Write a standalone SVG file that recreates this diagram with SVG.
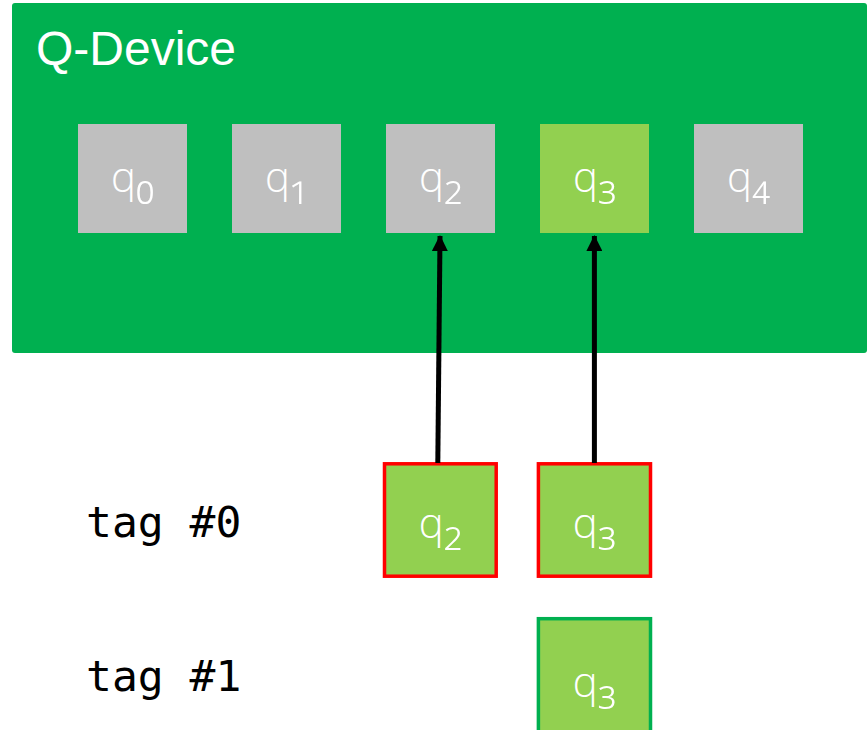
<svg xmlns="http://www.w3.org/2000/svg" width="868" height="730" viewBox="0 0 868 730">
<defs>
<style>
.qt{font-family:"Open Sans","Noto Sans","DejaVu Sans",sans-serif;font-weight:300;font-size:42px;fill:#fff;text-anchor:middle}
.sub{font-size:54px}
.gray{fill:#BFBFBF}
.lg{fill:#92D050}
.tag{font-family:"DejaVu Sans Mono","Liberation Mono",monospace;font-size:43px;fill:#000}
.conn{stroke:#000;stroke-width:5;fill:none}
</style>
<marker id="ah" viewBox="0 0 16 16" refX="15" refY="8" markerWidth="16" markerHeight="16" markerUnits="userSpaceOnUse" orient="auto">
<path d="M0,0 L16,8 L0,16 Z" fill="#000"/>
</marker>
</defs>
<g id="device">
<rect x="12" y="3" width="855" height="350" rx="3" fill="#00B050"/>
<text x="36" y="65" font-family="Liberation Sans,Arial,sans-serif" font-size="48" fill="#fff">Q-Device</text>
</g>
<g id="q0"><rect class="gray" x="78" y="124" width="109" height="109"/><text class="qt" x="132.5" y="192">q<tspan class="sub" dy="5">₀</tspan></text></g>
<g id="q1"><rect class="gray" x="232" y="124" width="109" height="109"/><text class="qt" x="286.5" y="192">q<tspan class="sub" dy="5">₁</tspan></text></g>
<g id="q2"><rect class="gray" x="386" y="124" width="109" height="109"/><text class="qt" x="440.5" y="192">q<tspan class="sub" dy="5">₂</tspan></text></g>
<g id="q3"><rect class="lg" x="540" y="124" width="109" height="109"/><text class="qt" x="594.5" y="192">q<tspan class="sub" dy="5">₃</tspan></text></g>
<g id="q4"><rect class="gray" x="694" y="124" width="109" height="109"/><text class="qt" x="748.5" y="192">q<tspan class="sub" dy="5">₄</tspan></text></g>
<g id="tag0"><text class="tag" x="86" y="537">tag #0</text></g>
<g id="tag1"><text class="tag" x="86" y="691">tag #1</text></g>
<g id="t0q2"><rect class="lg" x="384.5" y="463.8" width="111.7" height="112.4" stroke="#FF0000" stroke-width="3.5"/><text class="qt" x="440.3" y="538">q<tspan class="sub" dy="5">₂</tspan></text></g>
<g id="t0q3"><rect class="lg" x="538.4" y="463.8" width="112.1" height="112.4" stroke="#FF0000" stroke-width="3.5"/><text class="qt" x="594.4" y="538">q<tspan class="sub" dy="5">₃</tspan></text></g>
<g id="t1q3"><rect class="lg" x="538.4" y="618.7" width="112.1" height="120" stroke="#00B050" stroke-width="3.5"/><text class="qt" x="594.4" y="697">q<tspan class="sub" dy="5">₃</tspan></text></g>
<g id="connectors">
<line class="conn" x1="437.8" y1="463" x2="440" y2="236" marker-end="url(#ah)"/>
<line class="conn" x1="594.4" y1="463" x2="594.4" y2="236" marker-end="url(#ah)"/>
</g>
</svg>
